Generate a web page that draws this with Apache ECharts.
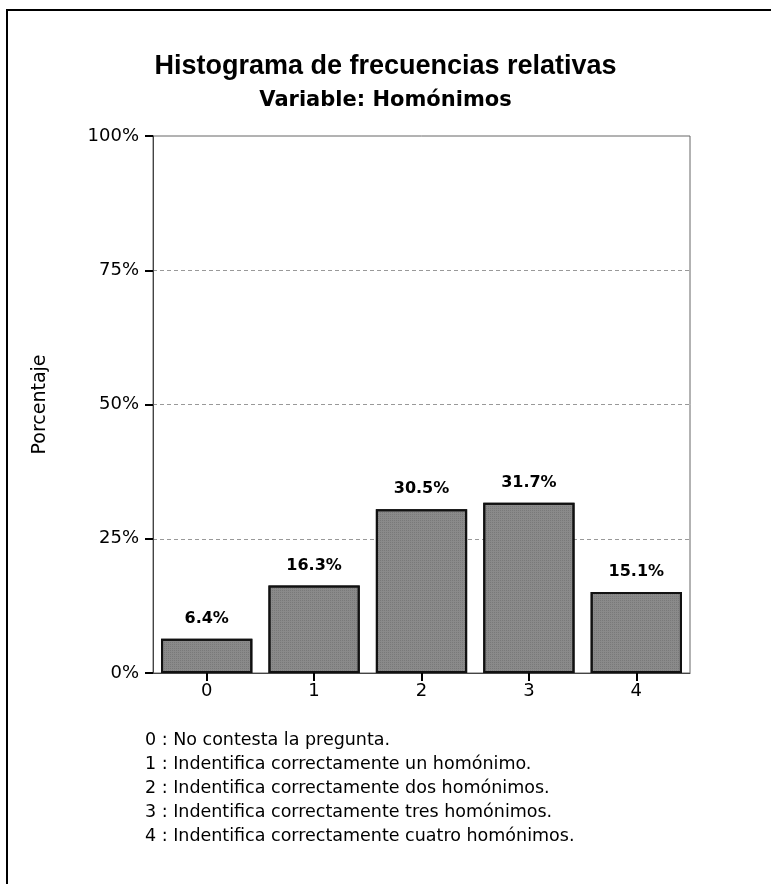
<!DOCTYPE html>
<html>
<head>
<meta charset="utf-8">
<script src="https://cdn.jsdelivr.net/npm/echarts@6/dist/echarts.min.js"></script>
<style>
  html, body { margin: 0; padding: 0; background: #fff; }
  #chart { width: 771px; height: 884px; }
</style>
</head>
<body>
<div id="chart"></div>
<script>
// datos del histograma
var categorias = ['0', '1', '2', '3', '4'];
var porcentajes = [6.4, 16.3, 30.5, 31.7, 15.1];
var ticksY = [0, 25, 50, 75, 100];
var notas = [
  '0 : No contesta la pregunta.',
  '1 : Indentifica correctamente un homónimo.',
  '2 : Indentifica correctamente dos homónimos.',
  '3 : Indentifica correctamente tres homónimos.',
  '4 : Indentifica correctamente cuatro homónimos.'
];

var arial = '"Liberation Sans", Arial, sans-serif';
var ancha = '"DejaVu Sans", Verdana, sans-serif';
var chart = echarts.init(document.getElementById('chart'));

var option = {
  backgroundColor: '#fff',
  animation: false,
  title: [{
    text: 'Histograma de frecuencias relativas',
    left: 'center',
    top: 48,
    textStyle: { fontFamily: arial, fontSize: 27, fontWeight: 'bold', color: '#000' }
  }, {
    text: 'Variable: Homónimos',
    left: 'center',
    top: 85,
    textStyle: { fontFamily: ancha, fontSize: 21, fontWeight: 'bold', color: '#000' }
  }, {
    text: notas.join('\n'),
    left: 140,
    top: 723,
    textStyle: { fontFamily: ancha, fontSize: 17.5, fontWeight: 'normal', color: '#000', lineHeight: 24 }
  }],
  graphic: [{
    type: 'rect',
    shape: { x: 7, y: 10, width: 800, height: 900 },
    style: { fill: 'none', stroke: '#000', lineWidth: 2 },
    silent: true
  }],
  grid: {
    left: 153, right: 81, top: 136, bottom: 211,
    show: true, borderColor: '#666', borderWidth: 1, backgroundColor: 'transparent'
  },
  xAxis: {
    type: 'category',
    data: categorias,
    axisLine: { lineStyle: { color: '#444', width: 1 } },
    axisTick: { show: true, alignWithLabel: true, length: 8, lineStyle: { color: '#000', width: 2 } },
    axisLabel: { fontFamily: ancha, fontSize: 18, color: '#000', margin: 9 },
    splitLine: { show: false }
  },
  yAxis: {
    type: 'value',
    min: ticksY[0],
    max: ticksY[ticksY.length - 1],
    interval: 25,
    name: 'Porcentaje',
    nameLocation: 'middle',
    nameGap: 103,
    nameTextStyle: { fontFamily: ancha, fontSize: 19, color: '#000' },
    axisLine: { show: true, lineStyle: { color: '#444', width: 1 } },
    axisTick: { show: true, inside: false, length: 8, lineStyle: { color: '#000', width: 2 } },
    axisLabel: { fontFamily: ancha, fontSize: 18, color: '#000', margin: 14, formatter: '{value}%' },
    splitLine: {
      show: true, showMinLine: false, showMaxLine: false,
      lineStyle: { color: '#999', type: [4, 3], width: 1 }
    }
  },
  series: [{
    type: 'bar',
    data: porcentajes,
    barCategoryGap: '15%',
    itemStyle: {
      color: '#8a8a8a',
      borderColor: '#111',
      borderWidth: 2,
      decal: {
        symbol: 'rect',
        symbolSize: 1,
        dashArrayX: [1, 1],
        dashArrayY: [1, 1],
        color: 'rgba(0, 0, 0, 0.12)'
      }
    },
    label: {
      show: true,
      position: 'top',
      distance: 12,
      formatter: '{c}%',
      fontFamily: ancha,
      fontSize: 16,
      fontWeight: 'bold',
      color: '#000'
    }
  }]
};

chart.setOption(option);
</script>
</body>
</html>
